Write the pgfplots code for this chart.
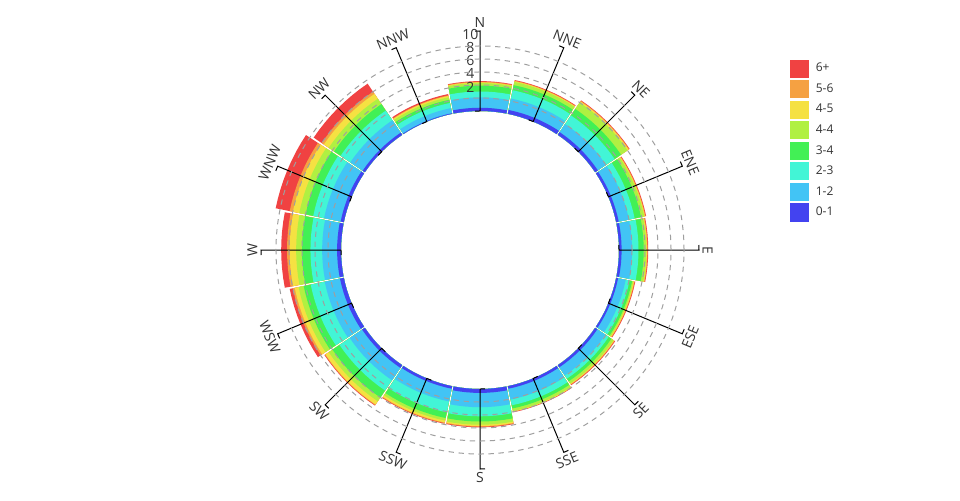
\documentclass[border=0pt]{standalone}
\usepackage{fontspec}
\setmainfont{Open Sans}
\usepackage{pgfplots}
\usepackage{pgfplotstable}
\usepgfplotslibrary{polar}
\pgfplotsset{compat=1.18}

\definecolor{c1}{HTML}{4343F0}
\definecolor{c2}{HTML}{42C4F5}
\definecolor{c3}{HTML}{42F5D6}
\definecolor{c4}{HTML}{42F055}
\definecolor{c5}{HTML}{B0F042}
\definecolor{c6}{HTML}{F5E142}
\definecolor{c7}{HTML}{F5A142}
\definecolor{c8}{HTML}{F04242}
\definecolor{txt}{HTML}{333333}

% frequency per direction; columns: 0-1 1-2 2-3 3-4 4-4 4-5 5-6 6+
\pgfplotstableread{
dir f1  f2  f3  f4  f5  f6  f7  f8
N   0.5 1.6 0.9 0.9 0.4 0.1 0.1 0.1
NNE 0.6 1.8 1.3 0.8 0.5 0.1 0.1 0.1
NE  0.5 1.5 1.6 1.2 1.2 0.2 0.1 0.1
ENE 0.4 1.6 0.9 1.0 0.5 0.1 0.1 0.1
E   0.4 1.6 1.0 0.8 0.4 0.1 0.1 0.1
ESE 0.3 1.2 0.6 0.4 0.2 0.1 0.1 0.1
SE  0.4 1.5 0.6 0.5 0.4 0.1 0.1 0.1
SSE 0.4 1.7 0.9 0.5 0.4 0.1 0.0 0.1
S   0.6 2.2 1.4 0.8 0.5 0.2 0.1 0.1
SSW 0.4 2.0 1.7 0.9 0.4 0.3 0.1 0.1
SW  0.5 2.3 1.9 1.3 0.7 0.6 0.1 0.1
WSW 0.6 2.4 2.2 1.1 0.8 0.6 0.3 0.5
W   0.6 2.3 1.8 1.3 0.9 1.0 0.4 0.9
WNW 0.5 2.6 1.7 1.2 1.0 1.0 0.5 2.2
NW  0.4 2.3 1.8 1.2 1.0 0.9 0.4 1.5
NNW 0.1 0.8 0.8 0.5 0.4 0.2 0.1 0.2
}\wind

\def\hole{21.385}   % radius of the empty centre, in data units
\def\rmax{33.69}
\def\hw{10.95}      % half width of a sector, degrees

% one sector from the hole out to hole+#2, at angle #1, colour #3
\newcommand\wedgeplot[3]{%
  \pgfmathsetmacro\ro{\hole+#2}%
  \gdef\pts{}%
  \foreach \k in {0,...,8} {%
    \pgfmathsetmacro\aa{#1-\hw+\k*\hw/4}%
    \xdef\pts{\pts(\aa,\ro)}}%
  \foreach \k in {0,...,8} {%
    \pgfmathsetmacro\aa{#1+\hw-\k*\hw/4}%
    \xdef\pts{\pts(\aa,\hole)}}%
  \edef\next{\noexpand\addplot[draw=none,fill=#3,forget plot] coordinates {\pts};}%
  \next}

\tikzset{lab/.style={text=txt, font=\fontsize{10.5}{12}\selectfont, inner sep=0pt}}

\begin{document}
\begin{tikzpicture}
\useasboundingbox (0,0) rectangle (720pt,375pt);
\begin{polaraxis}[
  at={(360pt,187.5pt)}, anchor=center,
  scale only axis, width=328.5pt, height=328.5pt,
  xmin=0, xmax=360, ymin=0, ymax=\rmax,
  xtick=\empty,
  ytick={23.385,25.385,27.385,29.385,31.385},
  yticklabels={{},{},{},{},{}},
  yticklabel style={opacity=0, text opacity=0},
  ymajorgrids=true, xmajorgrids=false,
  major tick length=0pt,
  grid style={gray!75, dash pattern=on 4pt off 3.5pt, line width=0.75pt},
  axis line style={draw=none},
  axis on top,
  clip=false,
  legend cell align=left,
  legend style={at={(1.2078,0.935)}, anchor=north west, draw=none, fill=none,
    inner sep=0pt, row sep=2.2pt, column sep=5.25pt,
    nodes={inner sep=0pt, text=txt}, font=\fontsize{9}{10}\selectfont},
]

% stacked sectors, outermost class first
\foreach \d in {0,...,15} {
  \pgfmathsetmacro\ang{90-22.5*\d}
  \xdef\run{0}
  \foreach \s in {1,...,8} {
    \pgfplotstablegetelem{\d}{f\s}\of\wind
    \pgfmathsetmacro\tmp{\run+\pgfplotsretval}
    \xdef\run{\tmp}
    \expandafter\xdef\csname cum\s\endcsname{\tmp}
  }
  \foreach \s in {8,7,...,1} {
    \wedgeplot{\ang}{\csname cum\s\endcsname}{c\s}
  }
}

% direction lines with their small end ticks
\foreach \d in {0,...,15} {
  \pgfmathsetmacro\ang{90-22.5*\d}
  \pgfmathsetmacro\ai{\ang+2.06}
  \pgfmathsetmacro\ao{\ang+1.31}
  \edef\next{\noexpand\addplot[black,line width=0.75pt,forget plot] coordinates {(\ai,\hole)(\ang,\hole)(\ang,\rmax)(\ao,\rmax)};}\next
}

% direction names
\foreach \lab [count=\i from 0] in {N,NNE,NE,ENE,E,ESE,SE,SSE,S,SSW,SW,WSW,W,WNW,NW,NNW} {
  \pgfmathsetmacro\ang{90-22.5*\i}
  \pgfmathsetmacro\ph{22.5*\i}
  \pgfmathsetmacro\rot{(\ph<=90 || \ph>=270) ? -\ph : 180-\ph}
  \edef\next{\noexpand\node[lab, rotate=\rot] at (axis cs:\ang,35.0) {\lab};}\next
}

% radial tick labels along the N line
\node[lab, xshift=-7.3pt] at (axis cs:90,25.085) {2};
\node[lab, xshift=-7.3pt] at (axis cs:90,27.085) {4};
\node[lab, xshift=-7.3pt] at (axis cs:90,29.085) {6};
\node[lab, xshift=-7.3pt] at (axis cs:90,31.085) {8};
\node[lab, xshift=-7.3pt] at (axis cs:90,33.085) {10};

\addlegendimage{legend image code/.code={\fill[c8] (0pt,-6.4pt) rectangle (13.5pt,6.4pt);}}
\addlegendentry{6+}
\addlegendimage{legend image code/.code={\fill[c7] (0pt,-6.4pt) rectangle (13.5pt,6.4pt);}}
\addlegendentry{5-6}
\addlegendimage{legend image code/.code={\fill[c6] (0pt,-6.4pt) rectangle (13.5pt,6.4pt);}}
\addlegendentry{4-5}
\addlegendimage{legend image code/.code={\fill[c5] (0pt,-6.4pt) rectangle (13.5pt,6.4pt);}}
\addlegendentry{4-4}
\addlegendimage{legend image code/.code={\fill[c4] (0pt,-6.4pt) rectangle (13.5pt,6.4pt);}}
\addlegendentry{3-4}
\addlegendimage{legend image code/.code={\fill[c3] (0pt,-6.4pt) rectangle (13.5pt,6.4pt);}}
\addlegendentry{2-3}
\addlegendimage{legend image code/.code={\fill[c2] (0pt,-6.4pt) rectangle (13.5pt,6.4pt);}}
\addlegendentry{1-2}
\addlegendimage{legend image code/.code={\fill[c1] (0pt,-6.4pt) rectangle (13.5pt,6.4pt);}}
\addlegendentry{0-1}
\end{polaraxis}
\end{tikzpicture}
\end{document}
